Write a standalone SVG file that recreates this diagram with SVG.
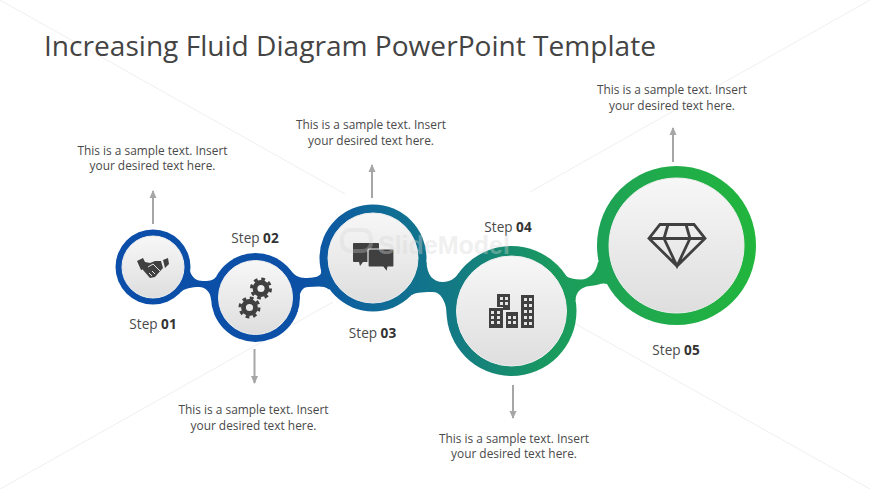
<svg xmlns="http://www.w3.org/2000/svg" width="870" height="489" viewBox="0 0 870 489">
<style>
text{font-family:"Open Sans","Noto Sans",sans-serif;fill:#4a4a4a}
.t{font-size:28.100px;fill:#444}
.d{font-size:11.900px;text-anchor:middle}
.s{font-size:13.600px;text-anchor:middle}
.s tspan{font-weight:700;fill:#333}
.bg{stroke:#efefef;stroke-width:1;fill:none}
.arr{stroke:#a6a6a6;stroke-width:2;fill:none;marker-end:url(#ah)}
.ring{fill:url(#fluid)}
.neck{fill:url(#fluid)}
.core{fill:url(#core);stroke:#eeeeee;stroke-width:1}
.ic{fill:#404040}
.wm{font-family:"Liberation Sans",sans-serif;font-size:25px;font-weight:700;fill:#d8d8d8;opacity:.4}
</style>
<defs>
<linearGradient id="fluid" gradientUnits="userSpaceOnUse" x1="150" y1="0" x2="760" y2="0">
<stop offset="0" stop-color="#0a4ea9"/><stop offset=".25" stop-color="#0c50a6"/><stop offset=".37" stop-color="#0f6a98"/><stop offset=".5" stop-color="#137a84"/><stop offset=".66" stop-color="#1a9a5e"/><stop offset=".8" stop-color="#1fa84f"/><stop offset="1" stop-color="#22b63c"/>
</linearGradient>
<linearGradient id="core" x1="0" y1="0" x2="0" y2="1">
<stop offset="0" stop-color="#f7f7f7"/><stop offset="1" stop-color="#dedede"/>
</linearGradient>
<marker id="ah" viewBox="0 0 8 8" refX="7" refY="4" markerWidth="8" markerHeight="8" markerUnits="userSpaceOnUse" orient="auto">
<path d="M0 0.5L8 4L0 7.5z" fill="#a6a6a6"/>
</marker>
</defs>
<rect width="870" height="489" fill="#ffffff"/>
<g id="background-lines">
<path class="bg" d="M0 0L345 194M533 300L870 489M0 489L333 302M530 192L870 0"/>
</g>
<text class="t" x="44" y="56">Increasing Fluid Diagram PowerPoint Template</text>
<g id="connectors">
<path class="neck" d="M190 271C192 278 197 281 203 281C208 281 213 281 216 277L255.500 297.500L211 300C211 293 206 287 199 287C192 287 184 288.600 181 292L153 267Z"/>
<path class="neck" d="M290 270C294 275 299 278 305 278C313 278 323 277 321 270L373 258L329 289.500C323 285 316 287 308 287C300 287 298 298 297.600 312L255.500 297.500Z"/>
<path class="neck" d="M426.500 262C427 275 433 282 443 282C450 282 455.500 278 459 273L511.500 311L447 316C447 305 442 292 433 292C426 292 416 292 412 295L373 258Z"/>
<path class="neck" d="M566 276C569 278 574 279.500 581 279.500C589 279.500 596.500 272 598 262L676.500 245.500L607 284C603 282 597 285.500 590 286C580 287 576 293 575.500 300L511.500 311Z"/>
<path class="arr" d="M153 224V191"/>
<path class="arr" d="M254.500 349V383"/>
<path class="arr" d="M372 198V165"/>
<path class="arr" d="M513 385V418"/>
<path class="arr" d="M673 162V128"/>
</g>
<g id="step-01">
<circle class="ring" cx="153" cy="267" r="37.500"/><circle class="core" cx="153" cy="267" r="31"/>
<path class="ic" d="M137 261L143 258L148 268L141 270ZM163 260L168 258L169 264L165 268ZM145 262L150 263L155 261L161 261L163 268L155 277L150 278L143 270Z"/>
<path fill="none" stroke="#e8e8e8" stroke-width="1" d="M148 267L153 264L160 271M152 276L149 273M155 274L152 271"/>
<text class="s" x="153" y="329">Step <tspan>01</tspan></text>
<text class="d"><tspan x="152.500" y="155">This is a sample text. Insert</tspan><tspan x="152.500" y="170">your desired text here.</tspan></text>
</g>
<g id="step-02">
<circle class="ring" cx="255.500" cy="297.500" r="44.500"/><circle class="core" cx="255.500" cy="297.500" r="37"/>
<g fill="none" stroke="#404040">
<circle cx="261" cy="288.500" r="6" stroke-width="4.800"/><circle cx="261" cy="288.500" r="9.500" stroke-width="3" stroke-dasharray="3.730 3.730"/>
<circle cx="249.500" cy="307.500" r="6" stroke-width="4.800"/><circle cx="249.500" cy="307.500" r="9.500" stroke-width="3" stroke-dasharray="3.730 3.730"/>
</g>
<text class="s" x="255" y="243">Step <tspan>02</tspan></text>
<text class="d"><tspan x="253.500" y="414">This is a sample text. Insert</tspan><tspan x="253.500" y="430">your desired text here.</tspan></text>
</g>
<g id="step-03">
<circle class="ring" cx="373" cy="258" r="53.500"/><circle class="core" cx="373" cy="258" r="45"/>
<path class="ic" d="M353 244a1 1 0 0 1 1-1h24a1 1 0 0 1 1 1v18h-16l-3 4-1-4h-5a1 1 0 0 1-1-1z"/>
<path class="ic" stroke="#ececec" stroke-width="1.200" d="M368 250a1 1 0 0 1 1-1h24a1 1 0 0 1 1 1v16a1 1 0 0 1-1 1h-5l-1 5-4-5h-14a1 1 0 0 1-1-1z"/>
<text class="s" x="372.500" y="338">Step <tspan>03</tspan></text>
<text class="d"><tspan x="371" y="129">This is a sample text. Insert</tspan><tspan x="371" y="145">your desired text here.</tspan></text>
</g>
<g id="step-04">
<circle class="ring" cx="511.500" cy="311" r="65"/><circle class="core" cx="511.500" cy="311" r="55"/>
<path class="ic" d="M489 308h14v20h-14zM497 294h13v16h-7v-3h-6zM506 312h12v16h-12zM521 295h13v33h-13z"/>
<path fill="#e4e4e4" d="M491 311h3v3h-3zM497 311h3v3h-3zM491 316h3v3h-3zM497 316h3v3h-3zM491 321h3v3h-3zM497 321h3v3h-3zM500 297h3v3h-3zM505 297h3v3h-3zM500 302h3v3h-3zM505 302h3v3h-3zM508 316h3v3h-3zM513 316h3v3h-3zM508 321h3v3h-3zM513 321h3v3h-3zM524 298h3v3h-3zM529 298h3v3h-3zM524 304h3v3h-3zM529 304h3v3h-3zM524 310h3v3h-3zM529 310h3v3h-3zM524 316h3v3h-3zM529 316h3v3h-3zM524 322h3v3h-3zM529 322h3v3h-3z"/>
<text class="s" x="508" y="232">Step <tspan>04</tspan></text>
<text class="d"><tspan x="514" y="443">This is a sample text. Insert</tspan><tspan x="514" y="458">your desired text here.</tspan></text>
</g>
<g id="step-05">
<circle class="ring" cx="676.500" cy="245.500" r="79.500"/><circle class="core" cx="676.500" cy="245.500" r="67.500"/>
<path fill="none" stroke="#404040" stroke-width="2.800" stroke-linejoin="miter" d="M660 224.500H694L705 238.500L677 266L649 238.500ZM649 238.500H705M668 224.500L664 238.500L677 266L690 238.500L686 224.500"/>
<text class="s" x="676" y="355">Step <tspan>05</tspan></text>
<text class="d"><tspan x="672" y="94">This is a sample text. Insert</tspan><tspan x="672" y="110">your desired text here.</tspan></text>
</g>
<g id="watermark" opacity=".9">
<rect x="342" y="230" width="29" height="21" rx="8" fill="none" stroke="#d8d8d8" stroke-width="4" opacity=".35"/>
<text class="wm" x="378" y="254">SlideModel</text>
</g>
</svg>
